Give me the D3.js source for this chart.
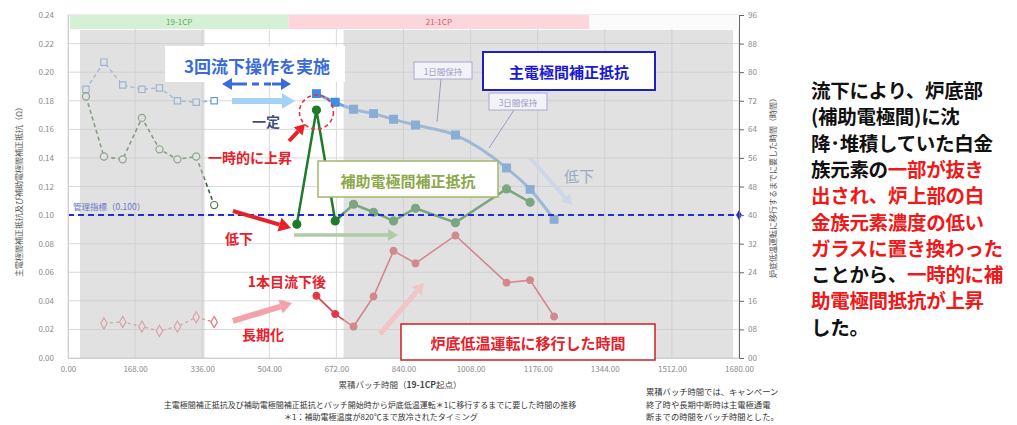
<!DOCTYPE html>
<html><head><meta charset="utf-8">
<script src="https://cdn.jsdelivr.net/npm/d3@7"></script>
<style>body{margin:0;background:#fff}svg{display:block}text{font-family:"Noto Sans CJK JP","Noto Sans",sans-serif}</style>
</head><body>
<svg id="c" width="1017" height="425"></svg>
<script>
// ---------- data ----------
const xTicks = [0,168,336,504,672,840,1008,1176,1344,1512,1680];
const yLeftTicks = [0,0.02,0.04,0.06,0.08,0.10,0.12,0.14,0.16,0.18,0.20,0.22,0.24];
const yRightTicks = [0,8,16,24,32,40,48,56,64,72,80,88,96];
// 19-1CP campaign
const hours19   = [45, 90, 137, 185, 229, 274, 321, 366];
const main19    = [0.188, 0.207, 0.191, 0.188, 0.189, 0.180, 0.179, 0.180];
const aux19     = [0.183, 0.141, 0.139, 0.168, 0.146, 0.139, 0.141, 0.107];
const lowTemp19 = [null, 9.7, 10.1, 8.8, 7.6, 8.8, 11.4, 10.1];
// 21-1CP campaign
const hours21   = [573, 622, 669, 715, 765, 815, 870, 970, 1098, 1157, 1217];
const main21    = [null, 0.185, 0.179, 0.174, 0.171, 0.167, 0.163, 0.156, 0.133, 0.118, 0.097];
const aux21     = [0.0936, 0.1735, 0.0959, 0.1076, 0.102, 0.0959, 0.1048, 0.0947, 0.1183, 0.109, null];
const lowTemp21 = [null, 17.4, 12.3, 8.8, 17.2, 30.0, 26.5, 34.3, 21.1, 21.8, 11.6];
const controlIndex = 0.10;
const campaigns = [{name:"19-1CP", from:5, to:552}, {name:"21-1CP", from:552, to:1305}];
const shadedSpans = [[30, 342], [690, 1665]];

// ---------- scales ----------
const svg = d3.select("#c");
const X0 = 68, X1 = 739, Y0 = 358, Y1 = 15;
const x = d3.scaleLinear([0,1680],[X0,X1]);
const yL = d3.scaleLinear([0,0.24],[Y0,Y1]);
const yR = d3.scaleLinear([0,96],[Y0,Y1]);

// gridlines
const g = svg.append("g");
g.selectAll(".hg").data(yLeftTicks).join("line")
  .attr("x1",X0).attr("x2",X1).attr("y1",d=>yL(d)).attr("y2",d=>yL(d))
  .attr("stroke","#d9d9d9").attr("stroke-width",1);
g.selectAll(".vg").data(xTicks).join("line")
  .attr("x1",d=>x(d)).attr("x2",d=>x(d)).attr("y1",Y1).attr("y2",Y0)
  .attr("stroke","#d9d9d9").attr("stroke-width",1);

// top campaign band
const bandColors = {"19-1CP":["#d6f0d6","#5aaa5a"], "21-1CP":["#fdd6db","#d05a6a"]};
svg.append("rect").attr("x",x(5)).attr("y",Y1).attr("width",x(1680)-x(5)).attr("height",14).attr("fill","#fbfbfb");
campaigns.forEach(c=>{
  svg.append("rect").attr("x",x(c.from)).attr("y",Y1).attr("width",x(c.to)-x(c.from)).attr("height",14)
    .attr("fill",bandColors[c.name][0]);
  svg.append("text").attr("x",(x(c.from)+x(c.to))/2).attr("y",Y1+10).attr("text-anchor","middle")
    .attr("font-size",8).attr("fill",bandColors[c.name][1]).text(c.name);
});
g.selectAll(".vg2").data(xTicks).join("line")
  .attr("x1",d=>x(d)).attr("x2",d=>x(d)).attr("y1",Y1).attr("y2",Y1+14)
  .attr("stroke","#e4e4e4").attr("stroke-width",1);

// ---------- series ----------
function pts(xs, ys){ return xs.map((h,i)=>({h, v:ys[i]})).filter(d=>d.v!=null); }
function drawSeries(data, yScale, opt){
  const line = d3.line().x(d=>x(d.h)).y(d=>yScale(d.v)).curve(opt.curve||d3.curveLinear);
  svg.append("path").datum(data).attr("d",line).attr("fill","none")
    .attr("stroke",opt.stroke).attr("stroke-width",opt.width).attr("stroke-dasharray",opt.dash||null);
  const sym = d3.symbol().type(opt.symbol).size(opt.size);
  svg.selectAll(null).data(data).join("path")
    .attr("transform",d=>`translate(${x(d.h)},${yScale(d.v)})`)
    .attr("d",sym).attr("fill",opt.fill).attr("stroke",opt.mstroke).attr("stroke-width",1.2);
}
drawSeries(pts(hours19,main19), yL, {stroke:"#7aaee0",width:1.5,dash:"4,3",symbol:d3.symbolSquare,size:40,fill:"#fff",mstroke:"#6a9ed8"});
drawSeries(pts(hours19,aux19), yL, {stroke:"#2f6a2f",width:1.6,dash:"4,3",symbol:d3.symbolCircle,size:40,fill:"#fff",mstroke:"#4a7a4a"});
drawSeries(pts(hours19,lowTemp19), yR, {stroke:"#e07a80",width:1.3,dash:"3,3",symbol:d3.symbolDiamond,size:36,fill:"#fff",mstroke:"#e07a80"});
drawSeries(pts(hours21,main21), yL, {stroke:"#6aa6e6",width:3,curve:d3.curveMonotoneX,symbol:d3.symbolSquare,size:60,fill:"#3f8ce0",mstroke:"#3f8ce0"});
drawSeries(pts(hours21,aux21), yL, {stroke:"#1f7a2a",width:2.5,symbol:d3.symbolCircle,size:50,fill:"#1f7a2a",mstroke:"#1f7a2a"});
drawSeries(pts(hours21,lowTemp21), yR, {stroke:"#e03a48",width:1.6,symbol:d3.symbolCircle,size:36,fill:"#e03a48",mstroke:"#e03a48"});

// translucent grey panels
shadedSpans.forEach(s=>{
  svg.append("rect").attr("x",x(s[0])).attr("y",Y1+15).attr("width",x(s[1])-x(s[0])).attr("height",Y0-Y1-15)
    .attr("fill","rgba(200,200,200,0.55)");
});

// control index line
svg.append("line").attr("x1",X0).attr("x2",X1).attr("y1",yL(controlIndex)).attr("y2",yL(controlIndex))
  .attr("stroke","#1f2fd8").attr("stroke-width",2).attr("stroke-dasharray","6,4");
svg.append("path").attr("transform",`translate(${X1},${yL(controlIndex)})`).attr("d",d3.symbol().type(d3.symbolDiamond).size(30)).attr("fill","#1f2fd8");
svg.append("text").attr("x",X0+5).attr("y",yL(controlIndex)-5).attr("font-size",8.5).attr("fill","#6a74c8").text("管理指標（0.100）");

// ---------- axes ----------
const axL = svg.append("g").attr("transform",`translate(${X0},0)`)
  .call(d3.axisLeft(yL).tickValues(yLeftTicks).tickFormat(d3.format(".2f")).tickSize(0).tickPadding(14));
axL.select(".domain").attr("stroke","#cfcfcf");
const axR = svg.append("g").attr("transform",`translate(${X1},0)`)
  .call(d3.axisRight(yR).tickValues(yRightTicks).tickFormat(d3.format("02d")).tickSize(5).tickPadding(4));
axR.select(".domain").attr("stroke","#666");
axR.selectAll(".tick line").attr("stroke","#666");
const axB = svg.append("g").attr("transform",`translate(0,${Y0})`)
  .call(d3.axisBottom(x).tickValues(xTicks).tickFormat(d3.format(".2f")).tickSize(0).tickPadding(8));
axB.select(".domain").attr("stroke","#cfcfcf");
[axL,axR,axB].forEach(a=>a.selectAll("text").attr("font-size",8).attr("fill","#8a8a8a").attr("font-family","Liberation Sans Narrow, Liberation Sans, sans-serif"));

svg.append("text").attr("transform","translate(22,190) rotate(-90)").attr("text-anchor","middle")
  .attr("font-size",8).attr("fill","#555").text("主電極間補正抵抗及び補助電極間補正抵抗（Ω）");
svg.append("text").attr("transform","translate(776,186) rotate(-90)").attr("text-anchor","middle")
  .attr("font-size",8).attr("fill","#555").text("炉底低温運転に移行するまでに要した時間（時間）");
const xt = svg.append("text").attr("x",400).attr("y",388).attr("text-anchor","middle").attr("font-size",8.5).attr("fill","#444");
xt.append("tspan").text("累積バッチ時間（");
xt.append("tspan").attr("font-weight","bold").text("19-1CP");
xt.append("tspan").text("起点）");
svg.append("text").attr("x",370).attr("y",408).attr("text-anchor","middle").attr("font-size",8).attr("fill","#333")
  .text("主電極間補正抵抗及び補助電極間補正抵抗とバッチ開始時から炉底低温運転＊1に移行するまでに要した時間の推移");
svg.append("text").attr("x",284).attr("y",420).attr("font-size",8).attr("fill","#333")
  .text("＊1：補助電極温度が820℃まで放冷されたタイミング");
["累積バッチ時間では、キャンペーン","終了時や長期中断時は主電極通電","断までの時間をバッチ時間とした。"].forEach((t,i)=>{
  svg.append("text").attr("x",646).attr("y",395+i*12.5).attr("font-size",8.3).attr("fill","#333").text(t);
});

// ---------- annotations ----------
function arrow(x1,y1,x2,y2,color,w,head,dash){
  const a = Math.atan2(y2-y1,x2-x1);
  const bx = x2-head*Math.cos(a), by = y2-head*Math.sin(a);
  svg.append("line").attr("x1",x1).attr("y1",y1).attr("x2",bx).attr("y2",by)
    .attr("stroke",color).attr("stroke-width",w).attr("stroke-dasharray",dash||null);
  const hw = head*0.6;
  svg.append("path").attr("d",`M${x2},${y2}L${bx+hw*Math.sin(a)},${by-hw*Math.cos(a)}L${bx-hw*Math.sin(a)},${by+hw*Math.cos(a)}Z`).attr("fill",color);
}
function label(t,xp,yp,size,color,weight,anchor){
  return svg.append("text").attr("x",xp).attr("y",yp).attr("font-size",size).attr("fill",color)
    .attr("font-weight",weight||"bold").attr("text-anchor",anchor||"middle").attr("dominant-baseline","central").text(t);
}
svg.append("rect").attr("x",165).attr("y",46).attr("width",180).attr("height",36).attr("fill","#fff");
label("3回流下操作を実施",257,65,17,"#3a6bd8");
arrow(240,84,222,84,"#3a6bd8",3,10);
arrow(272,84,291,84,"#3a6bd8",3,10);
svg.append("line").attr("x1",240).attr("x2",272).attr("y1",84).attr("y2",84).attr("stroke","#3a6bd8").attr("stroke-width",3).attr("stroke-dasharray","7,5");
arrow(232,101,295,101,"#a3d2f2",6,13);
label("一定",266,121,14,"#3d4f80");

const peak = {h:hours21[1], v:aux21[1]};
svg.append("circle").attr("cx",x(peak.h)).attr("cy",yL(peak.v)+2).attr("r",17).attr("fill","none")
  .attr("stroke","#e8323c").attr("stroke-width",1.6).attr("stroke-dasharray","4,3");
arrow(289,141,305,124,"#e8202a",4,10);
label("一時的に上昇",250,157,14,"#e8202a");
arrow(233,211,291,228,"#e8202a",4,12);
label("低下",239,238,14,"#e8202a");
arrow(294,235,398,235,"#b2c9aa",3.5,10);
label("1本目流下後",287,281,14,"#e8202a");
arrow(233,321,292,303,"#f4a2aa",6,12);
label("長期化",263,334,14,"#e8202a");
arrow(380,334,424,283,"#f2c4c6",5,11);
arrow(530,158,572,205,"#ccd8e6",4,10);
label("低下",579,175,15,"#9aaac2","normal");

svg.append("rect").attr("x",318).attr("y",161).attr("width",180).attr("height",36).attr("fill","#fff")
  .attr("stroke","#a2b66a").attr("stroke-width",1.5);
label("補助電極間補正抵抗",408,180,15,"#8ca84a");
svg.append("rect").attr("x",483).attr("y",52).attr("width",172).attr("height",38).attr("fill","#fff")
  .attr("stroke","#2020c0").attr("stroke-width",2);
label("主電極間補正抵抗",569,71,15,"#1a1ad0");
svg.append("rect").attr("x",414).attr("y",62).attr("width",58).attr("height",17).attr("fill","#f3f3f7").attr("stroke","#a8a8d0");
label("1日間保持",443,71,8.5,"#9a9ac8","normal");
svg.append("line").attr("x1",441).attr("y1",79).attr("x2",437).attr("y2",122).attr("stroke","#9a9ac8");
svg.append("rect").attr("x",489).attr("y",93).attr("width",58).attr("height",17).attr("fill","#f3f3f7").attr("stroke","#a8a8d0");
label("3日間保持",518,102,8.5,"#9a9ac8","normal");
svg.append("line").attr("x1",514).attr("y1",110).attr("x2",489).attr("y2",148).attr("stroke","#9a9ac8");
svg.append("rect").attr("x",401).attr("y",324).attr("width",254).attr("height",36).attr("fill","#fff")
  .attr("stroke","#d02020").attr("stroke-width",1.5);
label("炉底低温運転に移行した時間",528,342,15,"#e8202a");

// right explanatory text
const lines = [
  [["流下により、炉底部","k"]],
  [["(補助電極間)に沈","k"]],
  [["降･堆積していた白金","k"]],
  [["族元素の","k"],["一部が抜き","r"]],
  [["出され、炉上部の白","r"]],
  [["金族元素濃度の低い","r"]],
  [["ガラスに置き換わった","r"]],
  [["ことから、","k"],["一時的に補","r"]],
  [["助電極間抵抗が上昇","r"]],
  [["した。","k"]]
];
lines.forEach((ln,i)=>{
  const t = svg.append("text").attr("x",811).attr("y",89+i*26.3).attr("font-size",19.5).attr("font-weight","bold")
    .attr("dominant-baseline","central").attr("letter-spacing",-0.3);
  ln.forEach(([s,c])=>t.append("tspan").attr("fill",c==="r"?"#f01818":"#111").text(s));
});
</script>
</body></html>
